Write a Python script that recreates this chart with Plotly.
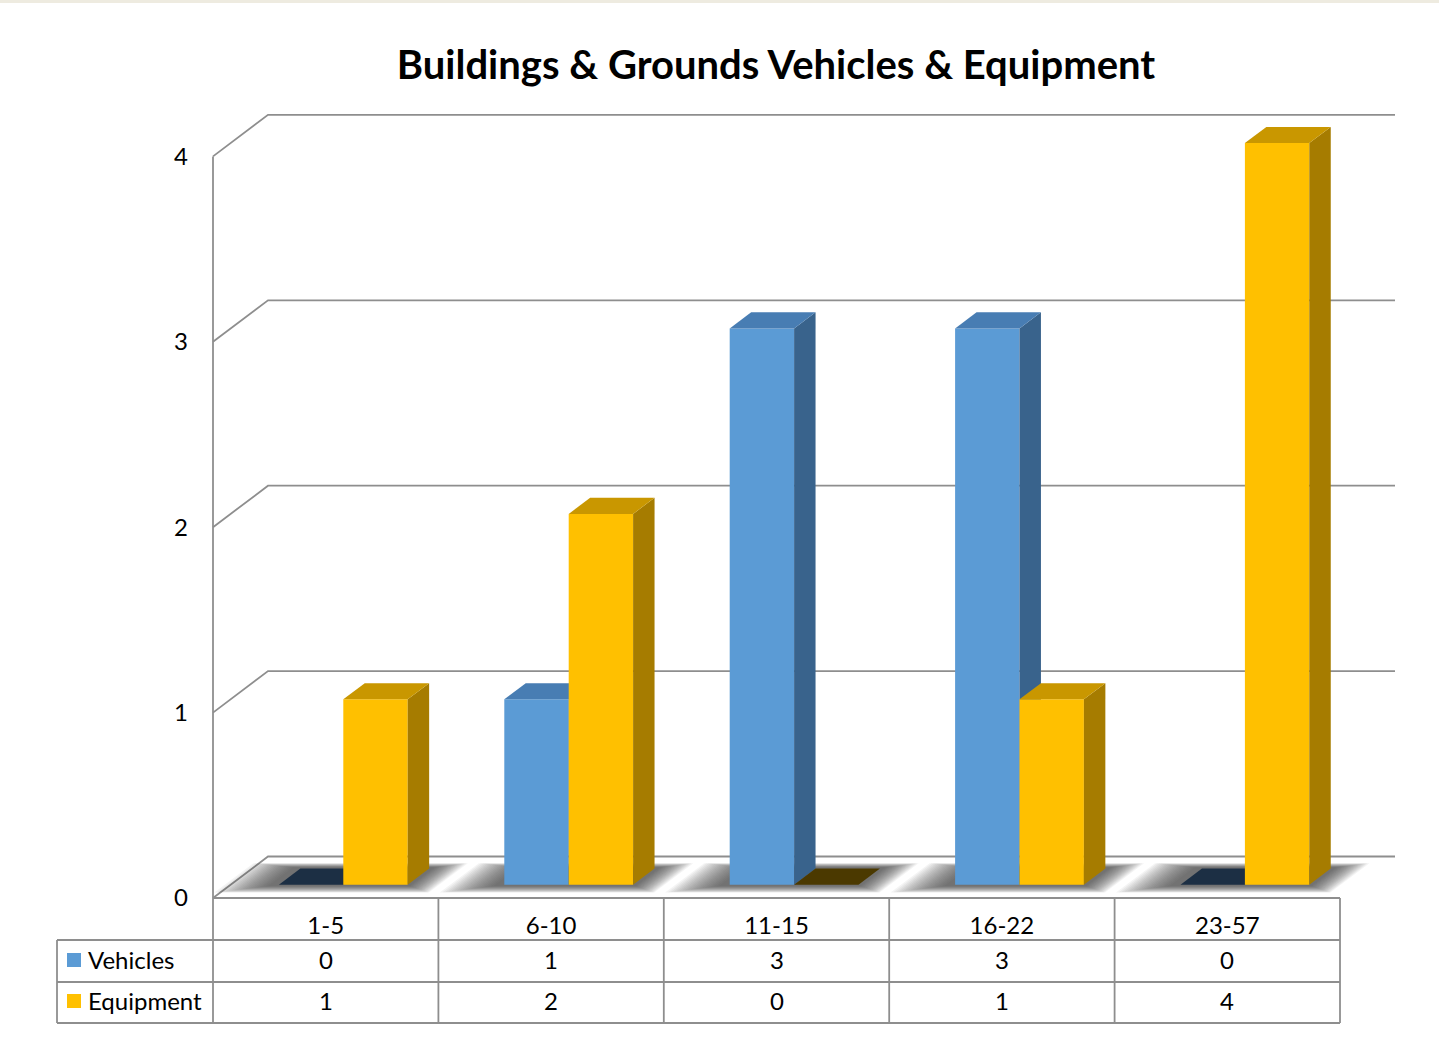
import plotly.graph_objects as go

# ---- data ----
categories = ["1-5", "6-10", "11-15", "16-22", "23-57"]
vehicles = [0, 1, 3, 3, 0]
equipment = [1, 2, 0, 1, 4]
series_names = ["Vehicles", "Equipment"]
y_ticks = [0, 1, 2, 3, 4]
title_text = "Buildings & Grounds Vehicles & Equipment"

# ---- canvas / scale setup (one data unit per category, one per count) ----
W, H = 1439, 1040
X0_PX, UNIT_X = 213.0, 225.4      # pixel of x=0 and pixels per category
Y0_PX, UNIT_Y = 898.0, 185.4      # pixel of y=0 and pixels per unit
x_range = [-X0_PX / UNIT_X, (W - X0_PX) / UNIT_X]
y_range = [-(H - Y0_PX) / UNIT_Y, Y0_PX / UNIT_Y]

DX = 55.0 / UNIT_X                # depth offset of the back wall (x)
DY = 41.5 / UNIT_Y                # depth offset of the back wall (y)
BW = 1 / 3.5                      # bar width (gap width 150%)
Z0, Z1 = 0.32, 0.71               # bar depth within the floor
N_CAT = len(categories)
Y_MAX = max(y_ticks)


def px_x(p):
    return (p - X0_PX) / UNIT_X


def px_y(p):
    return (Y0_PX - p) / UNIT_Y


def proj(x, v, z):
    return x + z * DX, v + z * DY


GRID = "#8E8E8E"
palette = {
    "Vehicles": {"front": "#5B9BD5", "top": "#487DB3", "side": "#39638C", "zero": "#1C2F44"},
    "Equipment": {"front": "#FFC000", "top": "#C99700", "side": "#A67C00", "zero": "#4B3900"},
}

fig = go.Figure()


def polygon(pts, color, opacity=1.0):
    xs = [p[0] for p in pts] + [pts[0][0]]
    ys = [p[1] for p in pts] + [pts[0][1]]
    fig.add_trace(go.Scatter(x=xs, y=ys, mode="lines", fill="toself",
                             fillcolor=color, opacity=opacity,
                             line=dict(width=0, color=color),
                             hoverinfo="skip", showlegend=False))


def polyline(pts, color=GRID, width=1.8):
    fig.add_trace(go.Scatter(x=[p[0] for p in pts], y=[p[1] for p in pts],
                             mode="lines", line=dict(color=color, width=width),
                             hoverinfo="skip", showlegend=False))


# ---- walls: side-wall diagonals and back-wall gridlines ----
for v in y_ticks:
    polyline([proj(0, v, 0), proj(0, v, 1), proj(N_CAT, v, 1)])
# front-left edge of the wall, continuing down as the table border
polyline([proj(0, Y_MAX, 0), (0, px_y(1023))])

# ---- soft floor shadows under each group ----
N_LAYERS = 20
for i in range(N_CAT):
    c = i + 0.5
    for k in range(N_LAYERS):
        g = (N_LAYERS - k) / N_LAYERS
        xl = c - BW - 0.03 - 0.21 * g
        xr = c + BW + 0.01 + 0.13 * g
        za = max(Z0 - 0.02 - 0.17 * g, 0.04)
        zb = min(Z1 + 0.02 + 0.11 * g, 0.9)
        polygon([proj(xl, 0, za), proj(xr, 0, za), proj(xr, 0, zb), proj(xl, 0, zb)],
                "#303030", 0.055)

# ---- 3D bars ----
for i in range(N_CAT):
    c = i + 0.5
    for name, vals, x0 in (("Vehicles", vehicles, c - BW), ("Equipment", equipment, c)):
        v = vals[i]
        x1 = x0 + BW
        col = palette[name]
        if v == 0:
            polygon([proj(x0, 0, Z0), proj(x1, 0, Z0), proj(x1, 0, Z1), proj(x0, 0, Z1)], col["zero"])
            continue
        # front face
        polygon([proj(x0, 0, Z0), proj(x1, 0, Z0), proj(x1, v, Z0), proj(x0, v, Z0)], col["front"])
        # right side face
        polygon([proj(x1, 0, Z0), proj(x1, 0, Z1), proj(x1, v, Z1), proj(x1, v, Z0)], col["side"])
        # top face
        polygon([proj(x0, v, Z0), proj(x1, v, Z0), proj(x1, v, Z1), proj(x0, v, Z1)], col["top"])

# ---- data table ----
row_lines_px = [898, 940, 982, 1023]
legend_left = px_x(57)
polyline([(0, px_y(898)), (N_CAT, px_y(898))])
for yp in row_lines_px[1:]:
    polyline([(legend_left, px_y(yp)), (N_CAT, px_y(yp))])
polyline([(legend_left, px_y(940)), (legend_left, px_y(1023))])
for j in range(1, N_CAT + 1):
    polyline([(j, px_y(898)), (j, px_y(1023))])

FONT = "Lato, 'Open Sans', sans-serif"
row_centers_px = [959, 1000]
for r, (name, vals) in enumerate(zip(series_names, [vehicles, equipment])):
    yc = px_y(row_centers_px[r])
    for i, v in enumerate(vals):
        fig.add_annotation(x=i + 0.5, y=yc, xref="x", yref="y", text=str(v),
                           showarrow=False, xanchor="center", yanchor="middle",
                           font=dict(family=FONT, size=24, color="#000000"))
    # legend key inside the table
    key_y = px_y(row_centers_px[r] + 1)
    fig.add_shape(type="rect", xref="x", yref="y",
                  x0=px_x(67), x1=px_x(81),
                  y0=key_y - 7 / UNIT_Y, y1=key_y + 7 / UNIT_Y,
                  fillcolor=palette[name]["front"], line=dict(width=0))
    fig.add_annotation(x=px_x(86), y=yc, xref="x", yref="y", text=name,
                       showarrow=False, xanchor="left", yanchor="middle",
                       font=dict(family=FONT, size=24, color="#000000"))

# top strip
fig.add_shape(type="rect", xref="paper", yref="paper", x0=0, x1=1,
              y0=1 - 3 / H, y1=1, fillcolor="#EEEBE0", line=dict(width=0), layer="below")

fig.update_layout(
    width=W, height=H, autosize=False,
    margin=dict(l=0, r=0, t=0, b=0),
    paper_bgcolor="white", plot_bgcolor="white",
    showlegend=False,
    title=dict(text="<b>" + title_text + "</b>", x=776 / W, xanchor="center",
               y=1 - 65 / H, yanchor="middle", xref="paper", yref="paper",
               font=dict(family=FONT, size=40, color="#000000")),
    xaxis=dict(range=x_range, domain=[0, 1], anchor="free", position=1 - Y0_PX / H,
               tickmode="array", tickvals=[i + 0.5 for i in range(N_CAT)], ticktext=categories,
               showgrid=False, zeroline=False, showline=False, ticks="",
               ticklabelstandoff=11, tickfont=dict(family=FONT, size=24, color="#000000"),
               fixedrange=True),
    yaxis=dict(range=y_range, domain=[0, 1], anchor="free", position=X0_PX / W,
               tickmode="array", tickvals=y_ticks, ticktext=[str(t) for t in y_ticks],
               showgrid=False, zeroline=False, showline=False, ticks="",
               ticklabelstandoff=25, tickfont=dict(family=FONT, size=24, color="#000000"),
               fixedrange=True),
)

fig.write_html("out.html")
